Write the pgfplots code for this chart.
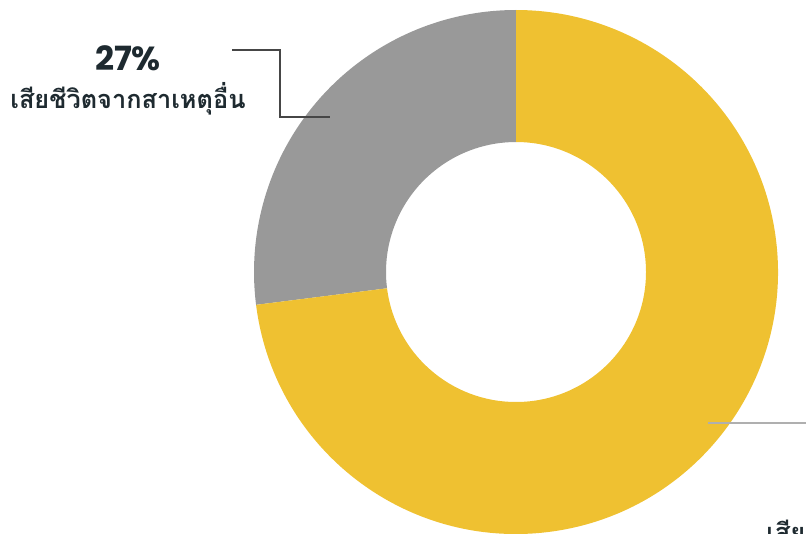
\documentclass[border=0pt]{standalone}
\usepackage{pgfplots}
\usepackage{pgfplotstable}
\pgfplotsset{compat=1.18}
\usepackage{fontspec}
\setmainfont{Poppins}
\newfontfamily\thaifont[Script=Thai]{Loma}

\definecolor{slicegray}{RGB}{153,153,153}
\definecolor{sliceyellow}{RGB}{239,193,49}
\definecolor{labeltext}{RGB}{30,42,48}
\definecolor{leaderdark}{RGB}{70,70,70}
\definecolor{leaderlight}{RGB}{175,175,175}

% share of deaths, percent
\pgfplotstableread{
share
27
73
}\slices

\begin{document}
\begin{tikzpicture}
\pgfplotstablegetelem{0}{share}\of\slices \let\shareA\pgfplotsretval
\pgfplotstablegetelem{1}{share}\of\slices \let\shareB\pgfplotsretval
\pgfmathsetmacro\angA{90+3.6*\shareA}
\pgfmathsetmacro\angB{\angA+3.6*\shareB}
\def\Ro{196.5pt}
\def\Ri{97.5pt}
\begin{axis}[
  x=0.75pt, y=0.75pt,
  xmin=0, xmax=806, ymin=0, ymax=533,
  hide axis, scale only axis,
]
\begin{scope}
\clip (0,0) rectangle (806,533);
% gray slice
\fill[slicegray] ([shift={(90:\Ro)}]516,261) arc[start angle=90, end angle=\angA, radius=\Ro]
  -- ([shift={(\angA:\Ri)}]516,261) arc[start angle=\angA, end angle=90, radius=\Ri] -- cycle;
% yellow slice
\fill[sliceyellow] ([shift={(\angA:\Ro)}]516,261) arc[start angle=\angA, end angle=\angB, radius=\Ro]
  -- ([shift={(\angB:\Ri)}]516,261) arc[start angle=\angB, end angle=\angA, radius=\Ri] -- cycle;
% leaders
\draw[leaderdark, line width=0.8pt] (232,483) -- (280,483) -- (280,416) -- (330,416);
\draw[leaderlight, line width=1.5pt] (708,110) -- (806,110);
% labels
\node[labeltext, font=\fontsize{25}{28}\selectfont\bfseries] at (128,475) {27\%};
\node[labeltext, font=\fontsize{19}{22}\selectfont\bfseries\thaifont] at (128,434) {เสียชีวิตจากสาเหตุอื่น};
\node[labeltext, anchor=north west, inner sep=0pt, font=\fontsize{19}{22}\selectfont\bfseries\thaifont] at (766,13) {เสียชีวิตจากโควิด-19};
\end{scope}
\end{axis}
\pgfresetboundingbox
\useasboundingbox (current axis.south west) rectangle (current axis.north east);
\end{tikzpicture}
\end{document}
